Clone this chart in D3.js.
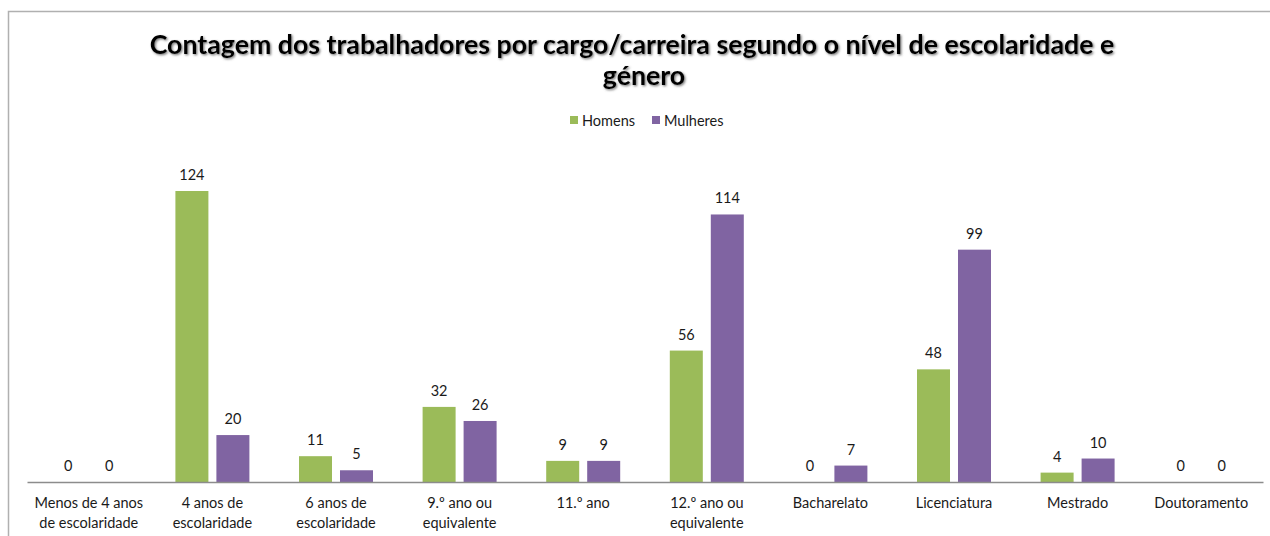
<!DOCTYPE html>
<html lang="pt">
<head>
    <meta charset="UTF-8">
    <title>Contagem dos trabalhadores</title>
    <script src="https://d3js.org/d3.v7.min.js"></script>
    <style>
        body { margin: 0; background: #fff; }
        text { font-family: Lato, "Open Sans", sans-serif; }
        .lbl { font-size: 14.5px; fill: #1a1a1a; }
    </style>
</head>
<body>
<svg id="chart"></svg>
<script>
    // data
    const categories = [
        ["Menos de 4 anos", "de escolaridade"],
        ["4 anos de", "escolaridade"],
        ["6 anos de", "escolaridade"],
        ["9.º ano ou", "equivalente"],
        ["11.º ano"],
        ["12.º ano ou", "equivalente"],
        ["Bacharelato"],
        ["Licenciatura"],
        ["Mestrado"],
        ["Doutoramento"]
    ];
    const seriesNames = ["Homens", "Mulheres"];
    const homens   = [0, 124, 11, 32, 9, 56, 0, 48, 4, 0];
    const mulheres = [0, 20, 5, 26, 9, 114, 7, 99, 10, 0];
    const colors = ["#9bbb59", "#8064a2"];
    const titleLines = [
        "Contagem dos trabalhadores por cargo/carreira segundo o nível de escolaridade e",
        "género"
    ];

    const width = 1270, height = 536;
    const svg = d3.select("#chart").attr("width", width).attr("height", height);

    // chart frame
    svg.append("path")
        .attr("d", "M8.5,536V11.5H1270")
        .attr("fill", "none")
        .attr("stroke", "#b0b0b0")
        .attr("stroke-width", 1.5);

    const defs = svg.append("defs");
    const f = defs.append("filter").attr("id", "shadow")
        .attr("x", "-5%").attr("y", "-30%").attr("width", "110%").attr("height", "160%");
    f.append("feDropShadow").attr("dx", 1.2).attr("dy", 1.2)
        .attr("stdDeviation", 1).attr("flood-color", "#555").attr("flood-opacity", 0.8);

    // title
    const t1 = svg.append("text")
        .attr("x", 632).attr("y", 54)
        .attr("text-anchor", "middle")
        .attr("font-size", 24).attr("font-weight", "bold")
        .attr("filter", "url(#shadow)")
        .text(titleLines[0]);
    // fit the first line to the width seen in the picture
    const w1 = t1.node().getComputedTextLength();
    const fs = 24 * 965 / w1;
    t1.attr("font-size", fs);
    svg.append("text")
        .attr("x", 644).attr("y", 85)
        .attr("text-anchor", "middle")
        .attr("font-size", fs).attr("font-weight", "bold")
        .attr("filter", "url(#shadow)")
        .text(titleLines[1]);

    // scales
    const x0 = d3.scaleBand()
        .domain(d3.range(categories.length))
        .range([27, 1263]);
    const x1 = d3.scaleBand()
        .domain(seriesNames)
        .range([0, x0.bandwidth()])
        .paddingInner(0.195)
        .paddingOuter(0.605);
    const y = d3.scaleLinear()
        .domain([0, 124])
        .range([482, 191]);

    // legend
    const legendX = [570, 652];
    seriesNames.forEach(function (s, i) {
        svg.append("rect")
            .attr("x", legendX[i]).attr("y", 116)
            .attr("width", 8).attr("height", 8)
            .attr("fill", colors[i]);
        svg.append("text").attr("class", "lbl")
            .attr("x", legendX[i] + 12).attr("y", 126)
            .text(s);
    });

    // bars
    const values = [homens, mulheres];
    const g = svg.append("g");
    categories.forEach(function (c, i) {
        seriesNames.forEach(function (s, j) {
            const v = values[j][i];
            const bx = x0(i) + x1(s);
            g.append("rect")
                .attr("x", bx)
                .attr("y", y(v))
                .attr("width", x1.bandwidth())
                .attr("height", y(0) - y(v))
                .attr("fill", colors[j]);
            g.append("text").attr("class", "lbl")
                .attr("x", bx + x1.bandwidth() / 2)
                .attr("y", y(v) - 11)
                .attr("text-anchor", "middle")
                .text(v);
        });
    });

    // x axis
    const axis = svg.append("g")
        .attr("transform", "translate(0,482)")
        .call(d3.axisBottom(x0).tickSize(0).tickFormat(""));
    axis.select(".domain").attr("stroke", "#8c8c8c").attr("stroke-width", 1.3);
    axis.selectAll(".tick").each(function (d) {
        const t = d3.select(this).append("text")
            .attr("class", "lbl")
            .attr("text-anchor", "middle")
            .attr("fill", "#1a1a1a")
            .attr("font-size", 14.5);
        categories[d].forEach(function (line, k) {
            t.append("tspan").attr("x", 0).attr("y", 26 + k * 20).text(line);
        });
    });
</script>
</body>
</html>
